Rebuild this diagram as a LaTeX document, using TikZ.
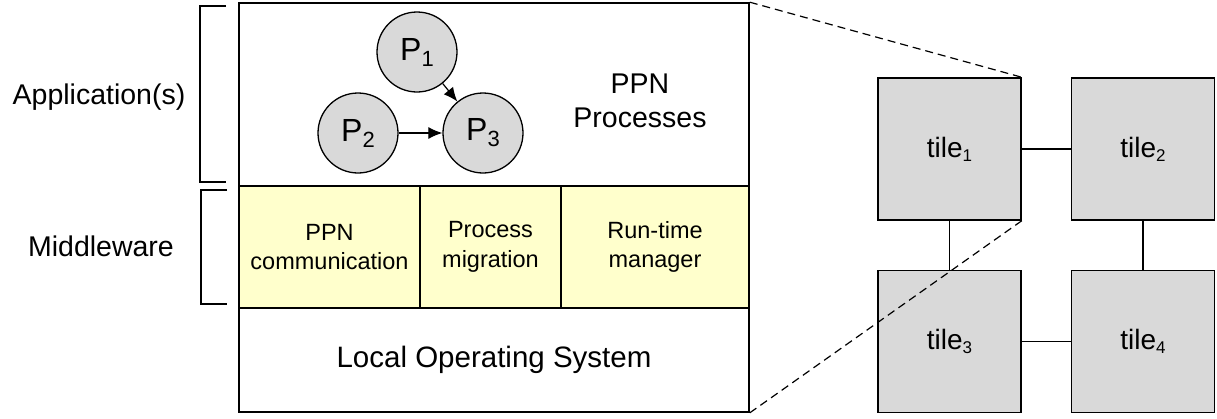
\documentclass[tikz,border=0pt]{standalone}
\usepackage{fontspec}
\setmainfont{Liberation Sans}
\usetikzlibrary{arrows.meta}
\definecolor{mwyellow}{HTML}{FFFFCC}
\definecolor{procgray}{HTML}{D9D9D9}
% subscripts for tile names and for process names
\newcommand\lowidx[1]{\raisebox{-4pt}{\fontsize{17}{17}\selectfont #1}}
\newcommand\procidx[1]{\raisebox{-6pt}{\fontsize{22}{22}\selectfont #1}}
\tikzset{
  layer/.style={draw, line width=1.6pt, inner sep=0pt, anchor=center},
  mwcell/.style={layer, fill=mwyellow, align=center, font=\fontsize{23.5}{29.5}\selectfont},
  proc/.style={circle, draw, line width=1.3pt, fill=procgray, minimum size=80pt, inner sep=0pt, font=\fontsize{32}{32}\selectfont},
  tilebox/.style={draw, line width=1.5pt, fill=procgray, minimum width=143pt, minimum height=142pt, inner sep=0pt, font=\fontsize{28}{28}\selectfont},
  label/.style={font=\fontsize{28.5}{34}\selectfont, align=center, inner sep=0pt},
  flow/.style={line width=1.2pt, -{Latex[length=14pt,width=12pt]}},
  link/.style={line width=1.2pt},
  zoomline/.style={line width=1.2pt, dash pattern=on 8pt off 5pt},
  brace/.style={line width=1.5pt}
}
\begin{document}
\begin{tikzpicture}[x=1pt, y=-1pt]
\useasboundingbox (0,0) rectangle (1217,418);

% layered software stack
\node[layer, minimum width=510pt, minimum height=183pt] (app) at (494,94.5) {};
\node[mwcell, minimum width=181pt, minimum height=122pt] (comm) at (329.5,247) {PPN\\communication};
\node[mwcell, minimum width=141pt, minimum height=122pt] (migr) at (490.5,247) {Process\\migration};
\node[mwcell, minimum width=188pt, minimum height=122pt] (rtm) at (655,247) {Run-time\\manager};
\node[layer, minimum width=510pt, minimum height=104pt, font=\fontsize{29.5}{29.5}\selectfont] (os) at (494,360) {Local Operating System};

\node[label] (ppn) at (640,101) {PPN\\Processes};

% process network
\node[proc] (p1) at (417,52) {P\procidx{1}};
\node[proc] (p2) at (358,133) {P\procidx{2}};
\node[proc] (p3) at (483,133) {P\procidx{3}};
\draw[flow] (p1) -- (p3);
\draw[flow] (p2) -- (p3);

% side brackets and their labels
\coordinate (ab1) at (226,6);
\coordinate (ab2) at (226,182);
\coordinate (mb1) at (227,190);
\coordinate (mb2) at (227,304);
\draw[brace] (ab1) -- (200,6) -- (200,182) -- (ab2);
\draw[brace] (mb1) -- (201,190) -- (201,304) -- (mb2);
\node[label] (applbl) at (99,97) {Application(s)};
\node[label] (mwlbl) at (101,246) {Middleware};

% tiled platform
\node[tilebox] (t1) at (949.5,149) {tile\lowidx{1}};
\node[tilebox] (t2) at (1143,149) {tile\lowidx{2}};
\node[tilebox] (t3) at (949.5,341.5) {tile\lowidx{3}};
\node[tilebox] (t4) at (1143,341.5) {tile\lowidx{4}};
\draw[link] (t1) -- (t2);
\draw[link] (t3) -- (t4);
\draw[link] (t1) -- (t3);
\draw[link] (t2) -- (t4);

% zoom from the stack onto one tile
\draw[zoomline] (app.north east) -- (t1.north east);
\draw[zoomline] (os.south east) -- (t1.south east);
\end{tikzpicture}
\end{document}
